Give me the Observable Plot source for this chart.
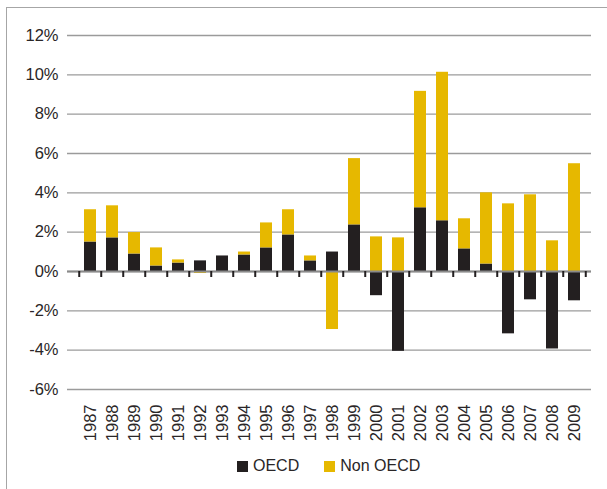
<!DOCTYPE html>
<html>
<head>
<meta charset="utf-8">
<script src="https://cdn.jsdelivr.net/npm/d3@7"></script>
<script src="https://cdn.jsdelivr.net/npm/@observablehq/plot@0.6"></script>
<style>
  html, body { margin: 0; padding: 0; width: 607px; height: 489px; overflow: hidden; background: #fff; }
  body { position: relative; font-family: "Liberation Sans", Arial, Helvetica, sans-serif; color: #2a2627; }
  #frame { position: absolute; left: 6px; top: 7px; width: 640px; height: 520px; border-top: 1px solid #a6a6a6; border-left: 1px solid #a6a6a6; z-index: 2; pointer-events: none; }
  #chart { position: absolute; left: 0; top: 0; z-index: 1; }
  #legend { position: absolute; left: 237px; top: 457px; display: flex; align-items: center; font-size: 16px; line-height: 18px; color: #2a2627; z-index: 1; }
  #legend .item { display: flex; align-items: center; margin-right: 25px; }
  #legend .sw { width: 11px; height: 11px; margin-right: 5px; }
</style>
</head>
<body>
<div id="chart"></div>
<div id="legend"></div>
<div id="frame"></div>
<script>
const years = [1987,1988,1989,1990,1991,1992,1993,1994,1995,1996,1997,1998,1999,2000,2001,2002,2003,2004,2005,2006,2007,2008,2009];
const oecd    = [1.50,1.71,0.89,0.28,0.43,0.54,0.79,0.84,1.20,1.86,0.54,0.99,2.37,-1.23,-4.06,3.24,2.58,1.15,0.38,-3.17,-1.44,-3.94,-1.49];
const nonOecd = [1.64,1.63,1.09,0.92,0.16,-0.10,0.00,0.15,1.27,1.28,0.25,-2.95,3.37,1.76,1.71,5.92,7.55,1.53,3.62,3.44,3.90,1.56,5.48];
const series = ["OECD", "Non OECD"];
const colors = ["#231f20", "#e6b800"];
const yTicks = [-6,-4,-2,0,2,4,6,8,10,12];

const table = [];
years.forEach((yr, i) => {
  table.push({year: String(yr), series: series[0], value: oecd[i]});
  table.push({year: String(yr), series: series[1], value: nonOecd[i]});
});

const W = 607, H = 445;
const mL = 73, mR = 16, mT = 35, mB = 56;
const step = (W - mL - mR) / years.length;
const font = '"Liberation Sans", Arial, Helvetica, sans-serif';

const chart = Plot.plot({
  width: W, height: H,
  marginLeft: mL, marginRight: mR, marginTop: mT, marginBottom: mB,
  style: {fontFamily: font, fontSize: "16.5px", color: "#2a2627", background: "transparent"},
  x: {domain: years.map(String), paddingInner: 0.45, paddingOuter: 0.225, axis: null, label: null},
  y: {domain: [-6, 12], axis: null, label: null},
  color: {domain: series, range: colors},
  marks: [
    Plot.ruleY(yTicks, {y: d => d, stroke: "#9b9b9b", strokeWidth: 1.3, insetLeft: -6}),
    Plot.barY(table, {x: "year", y: "value", fill: "series", order: series}),
    Plot.ruleY([0], {stroke: "#8a8a8a", strokeWidth: 2, insetLeft: -6}),
    Plot.ruleX(years.map(String), {x: d => d, y: 0, dx: -step / 2, insetBottom: -6, stroke: "#231f20", strokeWidth: 2}),
    Plot.ruleX([String(years[years.length - 1])], {x: d => d, y: 0, dx: step / 2, insetBottom: -6, stroke: "#231f20", strokeWidth: 2}),
    Plot.axisY(yTicks, {tickSize: 0, tickPadding: 15, tickFormat: d => `${d}%`, fontSize: 16.5, fill: "#2a2627", label: null}),
    Plot.axisX({tickSize: 0, tickPadding: 15, tickRotate: -90, fontSize: 16.5, fill: "#2a2627", label: null})
  ]
});
document.getElementById("chart").appendChild(chart);

const legend = document.getElementById("legend");
series.forEach((s, i) => {
  const item = document.createElement("div");
  item.className = "item";
  const sw = document.createElement("div");
  sw.className = "sw";
  sw.style.background = colors[i];
  const lab = document.createElement("span");
  lab.textContent = s;
  item.appendChild(sw);
  item.appendChild(lab);
  legend.appendChild(item);
});
</script>
</body>
</html>
